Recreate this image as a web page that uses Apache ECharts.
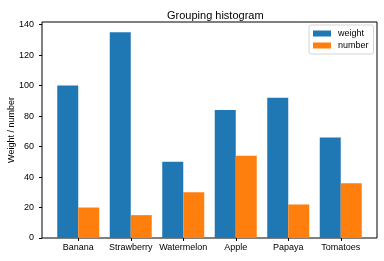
<!DOCTYPE html>
<html><head><meta charset="utf-8">
<script src="https://cdn.jsdelivr.net/npm/echarts@6/dist/echarts.min.js"></script>
<style>html,body{margin:0;padding:0;background:#fff}#c{width:384px;height:261px}</style>
</head><body><div id="c"></div>
<script>
const categories = ['Banana', 'Strawberry', 'Watermelon', 'Apple', 'Papaya', 'Tomatoes'];
const weight = [100, 135, 50, 84, 92, 66];
const number = [20, 15, 30, 54, 22, 36];
const yTicks = [0, 20, 40, 60, 80, 100, 120, 140];
const yMax = 141.75;

const FONT = "'Liberation Sans', Arial, sans-serif";
const chart = echarts.init(document.getElementById('c'), null, {renderer: 'canvas'});
chart.setOption({
  animation: false,
  backgroundColor: '#fff',
  textStyle: {fontFamily: FONT},
  title: {
    text: 'Grouping histogram', left: 162, top: 5,
    textStyle: {fontSize: 11, fontWeight: 'normal', color: '#000', fontFamily: FONT}
  },
  legend: {
    orient: 'vertical', left: 309, top: 25,
    data: ['weight', 'number'],
    itemWidth: 18, itemHeight: 6, itemGap: 3,
    padding: [4, 5, 4, 4],
    borderColor: '#d5d5d5', borderWidth: 1, borderRadius: 2,
    icon: 'rect',
    textStyle: {fontSize: 9, color: '#000', fontFamily: FONT, padding: [0, 0, 0, 2]}
  },
  grid: [
    {left: 42, right: 7, top: 22, bottom: 23, show: true, borderColor: '#000', borderWidth: 1,
     containLabel: false, outerBoundsMode: 'none'},
    {left: 52, right: 17, top: 22, bottom: 23, containLabel: false, outerBoundsMode: 'none'}
  ],
  xAxis: [
    {gridIndex: 0, type: 'value', min: 0, max: 1, show: false},
    {gridIndex: 1, type: 'category', data: categories,
     axisLine: {show: false},
     axisTick: {show: true, alignWithLabel: true, length: 3, lineStyle: {color: '#000'}},
     axisLabel: {fontSize: 9, color: '#000', margin: 5, fontFamily: FONT, interval: 0}}
  ],
  yAxis: [
    {gridIndex: 0, type: 'value', min: 0, max: yMax,
     name: 'Weight / number', nameLocation: 'middle', nameGap: 26, nameMoveOverlap: false,
     nameTextStyle: {fontSize: 9, color: '#000', fontFamily: FONT},
     axisLine: {show: false},
     splitLine: {show: false},
     axisTick: {show: true, length: 3, lineStyle: {color: '#000'}, customValues: yTicks},
     axisLabel: {fontSize: 9, color: '#000', margin: 8, fontFamily: FONT, customValues: yTicks}},
    {gridIndex: 1, type: 'value', min: 0, max: yMax, show: false, splitLine: {show: false}}
  ],
  series: [
    {name: 'weight', type: 'bar', xAxisIndex: 1, yAxisIndex: 1, data: weight,
     barWidth: '40%', barGap: '0%', itemStyle: {color: '#1f77b4'}},
    {name: 'number', type: 'bar', xAxisIndex: 1, yAxisIndex: 1, data: number,
     barWidth: '40%', barGap: '0%', itemStyle: {color: '#ff7f0e'}}
  ]
});
</script></body></html>
